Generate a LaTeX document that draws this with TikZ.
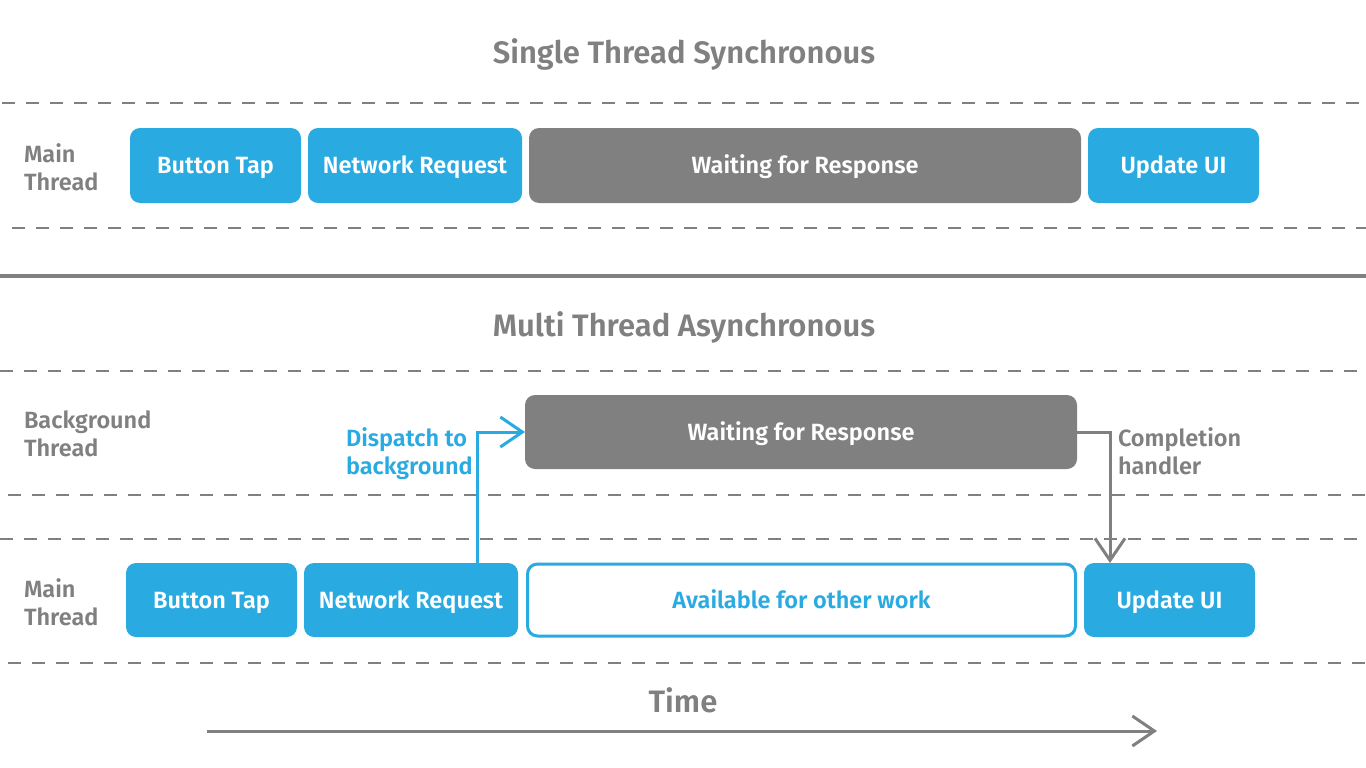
\documentclass[tikz,border=0pt]{standalone}
\usepackage{fontspec}
\setmainfont{Fira Sans}[BoldFont={Fira Sans SemiBold}]
\usepackage{xcolor}
\usepackage{tikz}
\usetikzlibrary{calc, arrows.meta, positioning}
\definecolor{ThreadGray}{RGB}{128, 128, 128}
\definecolor{ThreadBlue}{RGB}{41, 170, 225}

\begin{document}
\begin{tikzpicture}[x=1pt, y=-1pt,
    every node/.style={font=\fontsize{23.5}{28}\selectfont\bfseries, inner sep=0pt, outer sep=0pt},
    task/.style={fill=ThreadBlue, text=white, rounded corners=10pt, minimum height=75pt, text height=16pt, text depth=0pt},
    waiting/.style={fill=ThreadGray, text=white, rounded corners=10pt, minimum height=75pt, text height=16pt, text depth=0pt},
    freebox/.style={draw=ThreadBlue, line width=3pt, fill=white, text=ThreadBlue, rounded corners=10pt, minimum height=72pt, text height=16pt, text depth=0pt},
    lanelabel/.style={anchor=west, align=left, text=ThreadGray},
    heading/.style={anchor=base, text=ThreadGray, font=\fontsize{31}{36}\selectfont\bfseries},
    laneline/.style={ThreadGray, line width=2pt, dash pattern=on 13pt off 11pt},
    chevron/.style={-{Straight Barb[length=22pt 0 0, width=30pt 0 0, line width=3pt]}, line width=3pt}]
  \useasboundingbox (0,0) rectangle (1366,768);

  % single thread
  \node[heading] (title1) at (684,64) {Single Thread Synchronous};
  \draw[laneline] (2,103) -- (1366,103);
  \draw[laneline] (12,228) -- (1366,228);
  \node[lanelabel] (main1) at (24,167) {Main\\Thread};
  \node[task, minimum width=171pt] (tap1) at (215.5,165.5) {Button Tap};
  \node[task, minimum width=214pt] (req1) at (415,165.5) {Network Request};
  \node[waiting, minimum width=552pt] (wait1) at (805,165.5) {Waiting for Response};
  \node[task, minimum width=171pt] (ui1) at (1173.5,165.5) {Update UI};

  \draw[ThreadGray, line width=4pt] (0,276) -- (1366,276);

  % multi thread
  \node[heading] (title2) at (684,336) {Multi Thread Asynchronous};
  \foreach \y/\x in {371/0, 495/8, 539/0, 663/8}
    \draw[laneline] (\x,\y) -- (1366,\y);
  \node[lanelabel] (bgl) at (24,434) {Background\\Thread};
  \node[lanelabel] (main2) at (24,602) {Main\\Thread};
  \node[waiting, minimum width=552pt, minimum height=74pt] (wait2) at (801,432) {Waiting for Response};
  \node[task, minimum width=171pt, minimum height=74pt] (tap2) at (211.5,600) {Button Tap};
  \node[task, minimum width=214pt, minimum height=74pt] (req2) at (411,600) {Network Request};
  \node[freebox, minimum width=548pt] (free2) at (801.5,600) {Available for other work};
  \node[task, minimum width=171pt, minimum height=74pt] (ui2) at (1169.5,600) {Update UI};

  \node[lanelabel, text=ThreadBlue] (dispatch) at (346,454) {Dispatch to\\background};
  \node[lanelabel] (handler) at (1118,451) {Completion\\handler};
  \draw[chevron, ThreadBlue] ([xshift=-41pt]req2.north east) |- (wait2.west);
  \draw[chevron, ThreadGray] (wait2.east) -| ([xshift=26pt]ui2.north west);

  % time axis
  \node[heading] (time) at (683,712) {Time};
  \coordinate (t0) at (207,731);
  \coordinate (t1) at (1157,731);
  \draw[chevron, ThreadGray] (t0) -- (t1);
\end{tikzpicture}
\end{document}
